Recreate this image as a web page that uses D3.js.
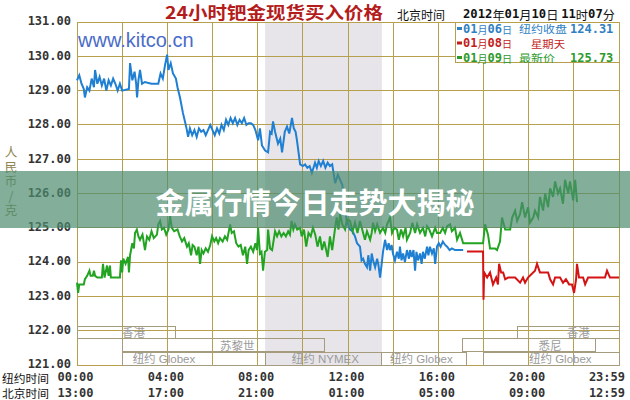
<!DOCTYPE html>
<html><head><meta charset="utf-8">
<script src="https://cdn.jsdelivr.net/npm/d3@7"></script>
<style>html,body{margin:0;padding:0;background:#fff;}svg{display:block;}</style>
</head><body>
<svg id="c" width="630" height="400"></svg>
<script>
// ---------- DATA ----------
const titleText = "24小时钯金现货买入价格";
const yTitleText = "人民币/克";
const yTicks = [121,122,123,124,125,126,127,128,129,130,131];
const gridHours = [0,2,4,6,8,10,12,14,16,18,20,22,24];
const labelHours = [0,4,8,12,16,20,24];
const nyLabels = ["00:00","04:00","08:00","12:00","16:00","20:00","23:59"];
const bjLabels = ["13:00","17:00","21:00","01:00","05:00","09:00","12:59"];
const nymexSpan = [8.33, 13.5];
const sessions = [
  {name:"香港", lane:0, start:0, end:4.38, labelAt:2.5},
  {name:"香港", lane:0, start:19.5, end:24, labelAt:22.2},
  {name:"苏黎世", lane:1, start:2, end:10.94, labelAt:7.1},
  {name:"悉尼", lane:1, start:17.05, end:22.94, labelAt:20.95},
  {name:"纽约 Globex", lane:2, start:2, end:8.33, labelAt:3.85},
  {name:"纽约 NYMEX", lane:2, start:8.33, end:13.5, labelAt:11.0},
  {name:"纽约 Globex", lane:2, start:13.5, end:17.23, labelAt:15.25},
  {name:"纽约 Globex", lane:2, start:18.0, end:24, labelAt:21.4}
];
const legendRows = [
  {date:"01月06日", label:"纽约收盘", value:"124.31", key:"blue"},
  {date:"01月08日", label:"星期天", value:"", key:"red"},
  {date:"01月09日", label:"最新价", value:"125.73", key:"green"}
];
const blueSeries = [[0.0,129.3],[0.1,129.45],[0.2,129.2],[0.3,129.05],[0.35,128.8],[0.45,129.1],[0.55,129.0],[0.65,129.35],[0.75,129.1],[0.8,129.6],[0.9,129.2],[1.0,129.4],[1.1,129.15],[1.2,129.35],[1.3,129.0],[1.4,129.3],[1.5,129.15],[1.6,129.35],[1.7,129.2],[1.8,129.0],[1.9,129.2],[2.0,129.0],[2.3,129.05],[2.35,129.8],[2.45,129.3],[2.55,129.55],[2.62,129.2],[2.66,128.8],[2.72,129.3],[2.79,129.6],[2.88,129.2],[3.0,129.25],[3.3,129.2],[3.6,129.2],[3.7,129.5],[3.8,129.35],[3.9,129.75],[3.99,130.05],[4.05,129.6],[4.15,129.8],[4.25,129.5],[4.38,129.35],[4.45,129.1],[4.56,128.8],[4.69,128.35],[4.78,128.1],[4.85,127.9],[4.92,127.65],[5.0,127.9],[5.1,127.7],[5.2,127.85],[5.3,127.65],[5.4,127.9],[5.5,127.8],[5.6,127.85],[5.7,127.7],[5.8,127.85],[5.9,128.0],[6.0,127.85],[6.1,127.7],[6.2,127.9],[6.3,127.75],[6.4,128.0],[6.5,127.85],[6.6,128.15],[6.7,128.0],[6.8,128.2],[6.9,128.05],[7.0,128.2],[7.1,128.0],[7.2,128.15],[7.3,128.05],[7.4,128.2],[7.5,128.0],[7.6,128.05],[7.7,128.05],[7.8,128.0],[7.9,127.85],[8.02,127.55],[8.1,127.9],[8.19,127.4],[8.33,127.25],[8.46,127.2],[8.55,127.8],[8.62,127.75],[8.68,128.1],[8.77,127.8],[8.9,127.45],[9.0,127.6],[9.08,127.2],[9.2,127.8],[9.3,127.95],[9.4,127.75],[9.52,128.2],[9.6,127.9],[9.68,127.8],[9.74,127.55],[9.88,126.85],[10.0,126.8],[10.1,126.85],[10.2,126.75],[10.3,126.8],[10.4,126.6],[10.54,126.9],[10.62,126.75],[10.7,126.95],[10.8,126.8],[10.9,126.95],[11.0,126.75],[11.1,126.9],[11.2,126.8],[11.3,126.85],[11.43,126.3],[11.55,126.55],[11.65,126.4],[11.75,126.25],[11.85,125.6],[11.95,125.2],[12.09,124.95],[12.2,124.9],[12.31,124.75],[12.4,124.55],[12.53,124.45],[12.6,124.05],[12.67,124.1],[12.75,123.95],[12.84,123.85],[12.9,124.2],[12.98,123.75],[13.05,124.25],[13.11,124.05],[13.2,123.85],[13.29,124.1],[13.35,123.9],[13.42,123.55],[13.5,124.0],[13.55,124.3],[13.64,124.65],[13.73,124.35],[13.8,124.55],[13.86,124.35],[13.93,124.5],[13.99,124.25],[14.08,124.05],[14.17,124.3],[14.25,124.1],[14.3,124.45],[14.37,124.05],[14.44,124.25],[14.52,124.0],[14.61,124.35],[14.7,124.1],[14.75,124.35],[14.82,124.15],[14.9,124.35],[14.97,123.75],[15.03,124.3],[15.1,124.05],[15.19,124.25],[15.26,123.95],[15.32,124.3],[15.4,124.1],[15.5,124.45],[15.56,124.2],[15.63,124.45],[15.72,124.25],[15.8,124.4],[15.86,123.95],[15.94,124.45],[16.02,124.55],[16.1,124.45],[16.2,124.6],[16.3,124.5],[16.39,124.45],[16.5,124.35],[16.6,124.4],[16.74,124.35],[17.1,124.35]];
const redSeries = [[17.27,124.31],[17.98,124.31],[18.0,122.9],[18.03,123.7],[18.16,123.55],[18.29,123.7],[18.42,123.35],[18.56,123.55],[18.64,123.35],[18.69,123.95],[18.78,123.7],[18.87,123.7],[18.96,123.5],[19.09,123.55],[19.4,123.55],[19.62,123.4],[19.75,123.55],[19.84,123.4],[19.97,123.55],[20.28,123.75],[20.37,123.95],[20.5,123.7],[20.86,123.7],[20.95,123.5],[21.08,123.35],[21.17,123.55],[21.39,123.55],[21.52,123.4],[21.65,123.5],[21.79,123.35],[21.92,123.35],[22.01,123.1],[22.1,123.5],[22.14,123.95],[22.23,123.55],[22.41,123.55],[22.5,123.35],[22.63,123.55],[23.16,123.55],[23.38,123.55],[23.47,123.75],[23.6,123.55],[24.0,123.55]];
const greenSeries = [[0.0,123.4],[0.05,123.1],[0.1,123.35],[0.3,123.35],[0.35,123.5],[0.45,123.6],[0.55,123.75],[0.6,123.6],[0.7,123.6],[0.75,123.75],[0.8,123.6],[0.9,123.55],[1.0,123.55],[1.1,123.55],[1.15,123.95],[1.22,123.55],[1.33,123.9],[1.4,123.6],[1.46,123.9],[1.5,123.55],[1.9,123.55],[1.95,124.05],[2.0,123.7],[2.05,124.1],[2.15,123.95],[2.26,124.15],[2.3,123.7],[2.35,124.2],[2.45,124.55],[2.52,124.4],[2.57,124.85],[2.65,124.95],[2.72,124.75],[2.79,124.65],[2.9,124.8],[3.01,124.35],[3.1,124.75],[3.2,124.65],[3.3,124.9],[3.4,124.7],[3.54,124.8],[3.6,125.1],[3.68,125.2],[3.76,124.95],[3.85,125.0],[3.95,124.8],[4.05,124.95],[4.12,125.35],[4.2,125.0],[4.3,124.9],[4.45,124.95],[4.55,124.75],[4.65,124.6],[4.75,124.7],[4.87,124.45],[4.95,124.55],[5.05,124.2],[5.12,124.5],[5.2,124.45],[5.3,124.2],[5.38,124.45],[5.45,123.95],[5.52,124.35],[5.6,124.25],[5.7,124.4],[5.8,124.3],[5.9,124.5],[5.98,124.75],[6.08,124.6],[6.16,124.7],[6.25,124.55],[6.33,124.7],[6.45,124.6],[6.55,124.75],[6.65,124.65],[6.78,125.1],[6.85,124.85],[6.95,124.9],[7.05,124.55],[7.15,124.45],[7.25,124.5],[7.35,124.2],[7.45,124.45],[7.53,123.95],[7.6,124.35],[7.7,124.45],[7.8,124.3],[7.9,124.55],[7.97,124.35],[8.02,125.0],[8.1,124.25],[8.17,124.3],[8.24,123.75],[8.32,124.3],[8.42,124.35],[8.46,124.95],[8.55,124.4],[8.64,124.35],[8.77,124.9],[8.86,124.75],[8.95,124.9],[9.05,124.75],[9.15,124.85],[9.25,124.75],[9.35,124.9],[9.43,124.8],[9.5,125.2],[9.58,124.95],[9.65,125.1],[9.75,124.95],[9.88,125.0],[9.95,124.75],[10.05,124.95],[10.15,124.45],[10.25,124.85],[10.35,124.75],[10.45,125.0],[10.55,124.8],[10.65,124.45],[10.76,124.75],[10.85,124.35],[10.95,124.6],[11.1,124.15],[11.2,124.75],[11.3,124.35],[11.43,125.0],[11.5,125.3],[11.58,124.95],[11.65,125.4],[11.75,125.1],[11.87,124.95],[11.95,125.25],[12.09,125.2],[12.2,124.9],[12.31,125.15],[12.42,124.85],[12.53,125.2],[12.67,124.85],[12.75,124.65],[12.84,124.9],[12.98,124.65],[13.05,124.85],[13.11,125.15],[13.2,124.9],[13.29,125.1],[13.42,124.85],[13.55,125.0],[13.65,124.85],[13.73,125.1],[13.86,125.3],[13.95,124.85],[14.05,125.0],[14.17,124.95],[14.25,124.65],[14.35,124.95],[14.44,124.75],[14.55,125.0],[14.61,124.65],[14.75,124.85],[14.85,125.15],[14.97,124.85],[15.06,125.1],[15.19,124.85],[15.32,125.0],[15.42,124.75],[15.5,125.05],[15.6,124.95],[15.72,124.75],[15.86,125.0],[15.94,124.85],[16.08,124.85],[16.2,125.0],[16.3,124.85],[16.39,125.05],[16.52,125.1],[16.6,124.9],[16.74,125.0],[16.83,124.65],[16.96,124.85],[17.1,124.55],[17.27,124.55],[17.98,124.55],[18.07,125.1],[18.2,124.8],[18.29,124.4],[18.51,124.4],[18.6,124.35],[18.73,124.6],[18.82,125.3],[18.96,124.95],[19.18,124.95],[19.27,125.3],[19.4,125.5],[19.49,125.2],[19.62,125.4],[19.71,125.75],[19.84,125.3],[19.97,125.6],[20.06,125.15],[20.2,125.3],[20.28,125.5],[20.42,125.3],[20.5,125.9],[20.64,125.5],[20.73,126.0],[20.86,125.6],[20.95,126.15],[21.08,125.9],[21.17,126.35],[21.3,126.0],[21.39,126.15],[21.52,125.7],[21.61,126.4],[21.75,126.0],[21.83,126.35],[21.97,125.8],[22.06,126.4],[22.14,125.75]];

// ---------- DRAW ----------
const svg = d3.select("#c");
const x = d3.scaleLinear().domain([0,24]).range([77,619]);
const y = d3.scaleLinear().domain([121,131]).range([365,22]);
const colors = {blue:"#1f7fd2", red:"#d41414", green:"#22a422"};
const textColors = {blue:"#2f7fc4", red:"#c41c1c", green:"#2c9a2c"};
const gridColor = "#b6a04e";
const monoFont = "'DejaVu Sans Mono', monospace";
const cjk = "'Noto Sans CJK SC', sans-serif";

// NYMEX shading
svg.append("rect").attr("x", x(nymexSpan[0])).attr("y", y(131))
  .attr("width", x(nymexSpan[1]) - x(nymexSpan[0])).attr("height", y(121) - y(131))
  .attr("fill", "#e7e5ea");

// grid
svg.append("g").selectAll("line").data(yTicks).join("line")
  .attr("x1", x(0)).attr("x2", x(24)).attr("y1", d => y(d)).attr("y2", d => y(d))
  .attr("stroke", gridColor).attr("stroke-width", 1).attr("shape-rendering","crispEdges");
svg.append("g").selectAll("line").data(gridHours).join("line")
  .attr("y1", y(131)).attr("y2", y(121)).attr("x1", d => x(d)).attr("x2", d => x(d))
  .attr("stroke", gridColor).attr("stroke-width", 1).attr("shape-rendering","crispEdges");

// sessions
const laneTop = [y(122) - 4, y(122) + 8, y(121) - 13];
const laneH = [12, 13, 13];
const sg = svg.append("g");
sessions.forEach(s => {
  sg.append("rect").attr("x", x(s.start)).attr("y", laneTop[s.lane])
    .attr("width", x(s.end) - x(s.start)).attr("height", laneH[s.lane])
    .attr("fill", "none").attr("stroke", "#a49c7c").attr("stroke-width", 1)
    .attr("shape-rendering","crispEdges");
  sg.append("text").attr("x", x(s.labelAt)).attr("y", laneTop[s.lane] + laneH[s.lane]/2 + 0.5)
    .attr("text-anchor","middle").attr("dominant-baseline","central")
    .attr("font-family", "'Liberation Sans', 'Noto Sans CJK SC', sans-serif").attr("font-size", 11.5)
    .attr("fill", "#9a9a9a").text(s.name);
});

// lines
const line = d3.line().x(d => x(d[0])).y(d => y(d[1]));
[["blue", blueSeries], ["red", redSeries], ["green", greenSeries]].forEach(([k, data]) => {
  svg.append("path").datum(data).attr("d", line).attr("fill","none")
    .attr("stroke", colors[k]).attr("stroke-width", 2).attr("stroke-linejoin","miter");
});

// y axis
const yAxis = d3.axisLeft(y).tickValues(yTicks).tickSize(0).tickPadding(6).tickFormat(d3.format(".2f"));
const ga = svg.append("g").attr("transform", `translate(${x(0)},-1)`).call(yAxis);
ga.select(".domain").remove();
ga.selectAll("text").attr("font-family", monoFont).attr("font-weight","bold").attr("font-size", 12).attr("fill","#333");

// bottom labels
svg.append("g").selectAll("text").data(nyLabels).join("text")
  .attr("x", (d,i) => i === nyLabels.length-1 ? x(labelHours[i]) + 6 : x(labelHours[i]) - 1.5)
  .attr("y", 377).attr("text-anchor", (d,i) => i === nyLabels.length-1 ? "end" : "middle")
  .attr("dominant-baseline","central")
  .attr("font-family", monoFont).attr("font-weight","bold").attr("font-size", 12).attr("fill","#333").text(d => d);
svg.append("g").selectAll("text").data(bjLabels).join("text")
  .attr("x", (d,i) => i === bjLabels.length-1 ? x(labelHours[i]) + 6 : x(labelHours[i]) - 1.5)
  .attr("y", 393).attr("text-anchor", (d,i) => i === bjLabels.length-1 ? "end" : "middle")
  .attr("dominant-baseline","central")
  .attr("font-family", monoFont).attr("font-weight","bold").attr("font-size", 12).attr("fill","#333").text(d => d);
svg.append("text").attr("x", 2).attr("y", 378).attr("dominant-baseline","central")
  .attr("font-family", cjk).attr("font-size", 11).attr("fill","#111")
  .attr("textLength", 47).attr("lengthAdjust","spacingAndGlyphs").text("纽约时间");
svg.append("text").attr("x", 2).attr("y", 393).attr("dominant-baseline","central")
  .attr("font-family", cjk).attr("font-size", 11).attr("fill","#111")
  .attr("textLength", 47).attr("lengthAdjust","spacingAndGlyphs").text("北京时间");

// y axis title (vertical, single text)
svg.append("text").attr("x", 11).attr("y", 146)
  .attr("style", "writing-mode: vertical-rl; text-orientation: upright;")
  .attr("letter-spacing", 2)
  .attr("font-family", cjk).attr("font-size", 12.5).attr("fill", "#8e8650").text(yTitleText);

// site name
svg.append("text").attr("x", 78).attr("y", 47).attr("font-family","'Liberation Sans', Arial, sans-serif")
  .attr("font-size", 20).attr("fill", "#4a6cc8").text("www.kitco.cn");

// title
svg.append("text").attr("x", 165).attr("y", 19).attr("font-family", cjk).attr("font-weight","bold")
  .attr("font-size", 17).attr("fill", "#b41c1c").attr("textLength", 218).attr("lengthAdjust","spacingAndGlyphs").text(titleText);
svg.append("text").attr("x", 397).attr("y", 14).attr("dominant-baseline","central")
  .attr("font-family", cjk).attr("font-size", 12).attr("fill","#111").text("北京时间");
const dt = svg.append("text").attr("x", 463).attr("y", 14).attr("dominant-baseline","central")
  .attr("font-size", 12).attr("fill","#111").attr("textLength", 152).attr("lengthAdjust","spacingAndGlyphs");
[["2012","n"],["年","c"],["01","n"],["月","c"],["10","n"],["日 ","c"],["11","n"],["时","c"],["07","n"],["分","c"]].forEach(([t,k]) => {
  dt.append("tspan").attr("font-family", k==="n" ? monoFont : cjk).attr("font-weight", k==="n" ? "bold" : "normal").text(t);
});

// legend
svg.append("rect").attr("x", 455.5).attr("y", 22.5).attr("width", 164).attr("height", 40)
  .attr("fill","#fff").attr("stroke", gridColor).attr("shape-rendering","crispEdges");
const rowY = [28.5, 43, 57.5];
const labelLen = [48, 34, 36];
legendRows.forEach((r, i) => {
  const c = textColors[r.key];
  svg.append("rect").attr("x", 457).attr("y", rowY[i]-1.5).attr("width", 5).attr("height", 3).attr("fill", c);
  const t = svg.append("text").attr("x", 463).attr("y", rowY[i]).attr("dominant-baseline","central").attr("fill", c)
    .attr("textLength", 49).attr("lengthAdjust","spacingAndGlyphs");
  t.append("tspan").attr("font-family", monoFont).attr("font-weight","bold").attr("font-size", 12).text(r.date.slice(0,2));
  t.append("tspan").attr("font-family", cjk).attr("font-size", 10).text("月");
  t.append("tspan").attr("font-family", monoFont).attr("font-weight","bold").attr("font-size", 12).text(r.date.slice(3,5));
  t.append("tspan").attr("font-family", cjk).attr("font-size", 10).text("日");
  svg.append("text").attr("x", r.value ? 519 : 531).attr("y", rowY[i]).attr("dominant-baseline","central")
    .attr("font-family", cjk).attr("font-size", 10).attr("fill", c)
    .attr("textLength", labelLen[i]).attr("lengthAdjust","spacingAndGlyphs").text(r.label);
  if (r.value) svg.append("text").attr("x", 570).attr("y", rowY[i]).attr("dominant-baseline","central")
    .attr("font-family", monoFont).attr("font-weight","bold").attr("font-size", 12).attr("fill", c).text(r.value);
});

// banner overlay
svg.append("rect").attr("x", 0).attr("y", 171).attr("width", 630).attr("height", 57)
  .attr("fill", "#4d8c6f").attr("opacity", 0.7);
svg.append("text").attr("x", 315).attr("y", 201).attr("text-anchor","middle").attr("dominant-baseline","central")
  .attr("font-family", cjk).attr("font-weight","bold").attr("font-size", 29).attr("fill","#fff")
  .text("金属行情今日走势大揭秘");
</script>
</body></html>
